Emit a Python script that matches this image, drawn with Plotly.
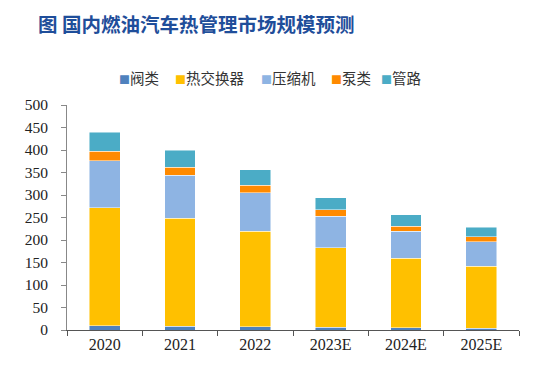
import plotly.graph_objects as go

categories = ["2020", "2021", "2022", "2023E", "2024E", "2025E"]
valves = [10, 8, 7, 6, 5, 4]
heat_exchangers = [262, 240, 213, 177, 154, 138]
compressors = [104, 96, 85, 70, 60, 54]
pumps = [21, 18, 17, 14, 12, 11]
pipes = [43, 38, 34, 27, 25, 21]
y_ticks = [0, 50, 100, 150, 200, 250, 300, 350, 400, 450, 500]

series_names = ["阀类", "热交换器", "压缩机", "泵类", "管路"]
series_values = [valves, heat_exchangers, compressors, pumps, pipes]
series_colors = ["#4f81bd", "#ffc000", "#8eb4e3", "#ff8a00", "#4bacc6"]

W, H = 527, 357
L, R, T, B = 59, 16, 97, 35
plot_w = W - L - R

fig = go.Figure()
for name, vals, color in zip(series_names, series_values, series_colors):
    fig.add_trace(go.Bar(
        x=categories, y=vals, name=name, showlegend=False,
        marker=dict(color=color, line=dict(color="rgba(255,255,255,0.6)", width=0.8)),
    ))

# legend drawn as coloured squares + text in a single row
legend_px = [109, 165, 251, 321, 371]
for name, color, px in zip(series_names, series_colors, legend_px):
    fig.add_annotation(
        xref="paper", yref="paper", x=(px - L) / plot_w, y=1.124,
        xanchor="left", yanchor="middle", showarrow=False,
        text=f'<span style="color:{color};font-size:11px">■</span>{name}',
        font=dict(family="Noto Sans CJK SC", size=14.5, color="#333"),
    )

fig.update_layout(
    barmode="stack",
    bargap=0.59,
    width=W, height=H,
    margin=dict(l=L, r=R, t=T, b=B),
    plot_bgcolor="white", paper_bgcolor="white",
    font=dict(family="Liberation Serif", size=14, color="#222"),
    title=dict(
        text="<b>图 国内燃油汽车热管理市场规模预测</b>",
        x=30 / W, xanchor="left", y=1 - 17 / H, yanchor="middle",
        font=dict(family="Noto Sans CJK SC", size=19.5, color="#1f4e9a"),
    ),
    showlegend=False,
)
fig.update_xaxes(
    showline=True, linecolor="#555", linewidth=1,
    ticks="outside", tickcolor="#555", ticklen=5, tickson="boundaries",
    tickfont=dict(family="Liberation Serif", size=16, color="#222"),
)
fig.update_yaxes(
    range=[0, 500], tickvals=y_ticks, showgrid=False, zeroline=False,
    showline=True, linecolor="#888", linewidth=1,
    ticks="outside", tickcolor="#888", ticklen=5, ticklabelstandoff=10,
    tickfont=dict(family="Liberation Serif", size=15.5, color="#222"),
)

fig.write_html("out.html")
